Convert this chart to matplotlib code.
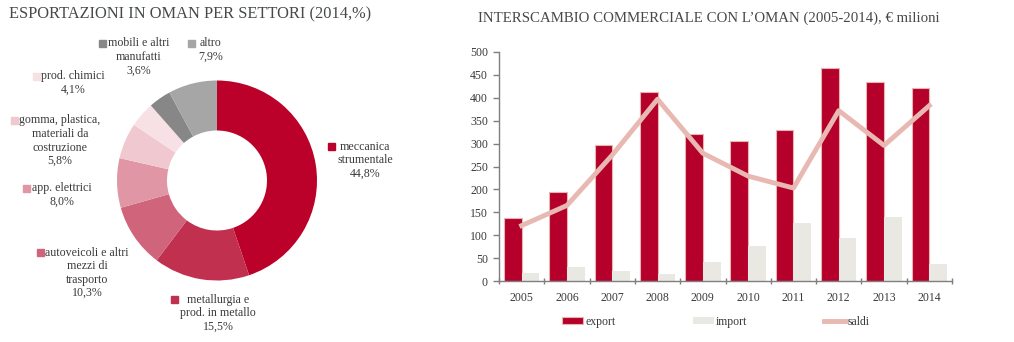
import numpy as np
import matplotlib
matplotlib.use("Agg")
import matplotlib.pyplot as plt
from matplotlib.patches import Rectangle

plt.rcParams['font.family'] = ['Liberation Serif', 'DejaVu Serif']

# --- dati ---
settori = ["meccanica\nstrumentale", "metallurgia e\nprod. in metallo",
           "autoveicoli e altri\nmezzi di\ntrasporto", "app. elettrici",
           "gomma, plastica,\nmateriali da\ncostruzione", "prod. chimici",
           "mobili e altri\nmanufatti", "altro"]
quote = [44.8, 15.5, 10.3, 8.0, 5.8, 4.1, 3.6, 7.9]
colori_pie = ["#bb0029", "#c1304f", "#d0647a", "#e096a4",
              "#efc9cf", "#f7e1e5", "#878787", "#a6a6a6"]

anni = ["2005", "2006", "2007", "2008", "2009", "2010", "2011", "2012", "2013", "2014"]
export = [138, 195, 297, 413, 320, 306, 330, 465, 435, 421]
imports = [17, 30, 22, 16, 41, 77, 127, 93, 139, 38]
saldi = [121, 165, 275, 397, 279, 229, 203, 372, 296, 383]

W, H = 1014, 342
fig = plt.figure(figsize=(W / 100, H / 100), dpi=100)
testo = "#3a3a3a"

def fx(px):
    return px / W

def fy(py):
    return 1 - py / H

# --- ciambella ---
fig.text(fx(9), fy(14), "ESPORTAZIONI IN OMAN PER SETTORI (2014,%)",
         fontsize=11.8, color="#454a45", va="center", ha="left")

axp = fig.add_axes([fx(117), fy(280.5), fx(200), 200 / H])
axp.pie(quote, colors=colori_pie, startangle=90, counterclock=False,
        radius=1, wedgeprops=dict(width=0.5, linewidth=0))
axp.set_xlim(-1, 1)
axp.set_ylim(-1, 1)
axp.set_aspect("equal")
axp.axis("off")

# posizioni etichette: (x quadrato, y prima riga, x centro testo)
pos_etich = [(331, 147, 365), (174, 300, 218), (40, 253, 87), (26, 189, 62),
             (14, 121, 60), (36, 77, 73), (102, 44, 139), (191, 44, 211)]
for nome, q, c, (sx, sy, tx) in zip(settori, quote, colori_pie, pos_etich):
    fig.patches.append(Rectangle((fx(sx - 3), fy(sy + 3)), fx(7), 7 / H,
                                 transform=fig.transFigure, color=c))
    etich = nome + "\n" + f"{q:.1f}".replace(".", ",") + "%"
    fig.text(fx(tx), fy(sy - 6.5), etich, fontsize=8.6, color=testo,
             ha="center", va="top", linespacing=1.17)

# --- barre ---
fig.text(fx(709), fy(18), "INTERSCAMBIO COMMERCIALE CON L\u2019OMAN (2005-2014), \u20ac milioni",
         fontsize=10.7, color="#454a45", va="center", ha="center")

ax = fig.add_axes([fx(499), fy(281), fx(453), 229 / H])
x = np.arange(len(anni))
w = 0.39
b1 = ax.bar(x - w / 2, export, w, color="#b4002b", edgecolor="#e8b4b0",
            linewidth=0.8, label="export", zorder=2)
b2 = ax.bar(x + w / 2, imports, w, color="#eae8e2", label="import", zorder=2)
l1, = ax.plot(x, saldi, color="#e8b9b2", linewidth=3.5, label="saldi", zorder=3)

ax.set_xlim(-0.5, len(anni) - 0.5)
ax.set_ylim(0, 500)
ax.set_yticks(range(0, 501, 50))
ax.set_xticks(x)
ax.set_xticklabels(anni)
ax.set_xticks(np.arange(-0.5, len(anni)), minor=True)
ax.tick_params(axis="x", which="major", length=0, pad=8, labelsize=8.5, labelcolor=testo)
ax.tick_params(axis="x", which="minor", length=5, width=1, color="#7f7f7f", direction="inout")
ax.tick_params(axis="y", length=4, width=1, color="#7f7f7f", labelsize=8.5, labelcolor=testo, pad=4)
for s in ["top", "right"]:
    ax.spines[s].set_visible(False)
for s in ["left", "bottom"]:
    ax.spines[s].set_color("#7f7f7f")
    ax.spines[s].set_linewidth(1)

fig.legend([b1, b2, l1], ["export", "import", "saldi"], loc="center",
           bbox_to_anchor=(fx(716), fy(322)), ncol=3,
           frameon=False, fontsize=8.5, handlelength=1.8, handleheight=0.5,
           handletextpad=0.2, columnspacing=6.5, labelcolor=testo)

fig.savefig("out.png", dpi=100)
